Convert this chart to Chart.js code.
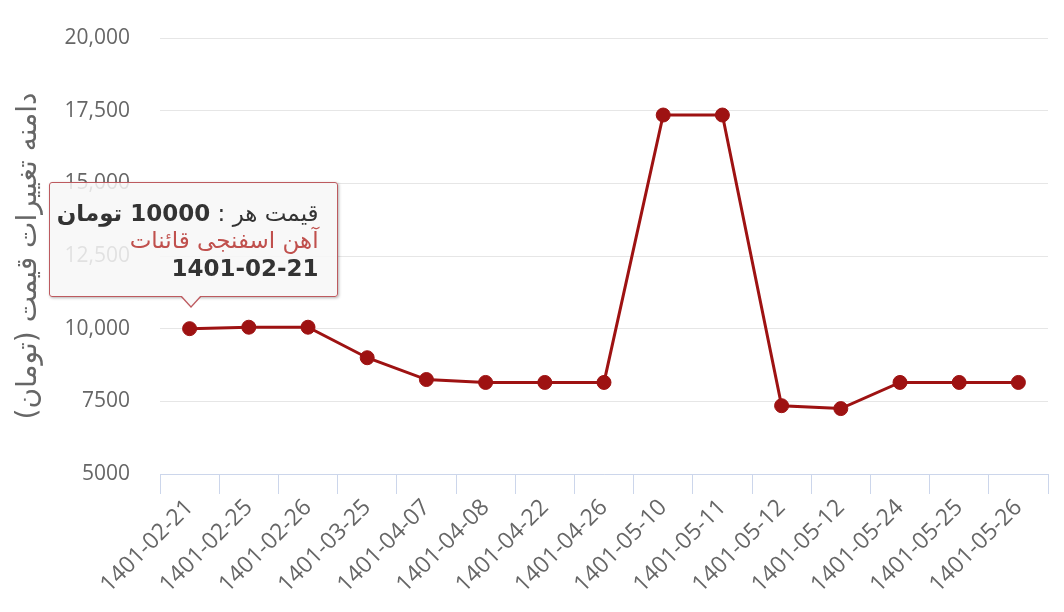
<!DOCTYPE html>
<html lang="fa">
<head>
<meta charset="utf-8">
<title>Price chart</title>
<script src="https://cdn.jsdelivr.net/npm/chart.js@4.4.0/dist/chart.umd.min.js"></script>
<style>
  html, body { margin: 0; padding: 0; background: #fff; }
  #wrap { position: relative; width: 1064px; height: 612px; }
  #tip {
    position: absolute;
    display: none;
    box-sizing: border-box;
    width: 289px;
    padding: 17px 18px 14px 8px;
    background: rgba(247, 247, 247, 0.85);
    border: 1px solid #bd5a5f;
    border-radius: 3px;
    box-shadow: 1px 1px 3px rgba(0, 0, 0, 0.3);
    direction: rtl;
    text-align: right;
    white-space: nowrap;
    font-family: 'DejaVu Sans', sans-serif;
    font-size: 23px;
    line-height: 27.5px;
    color: #333;
    pointer-events: none;
  }
  #tip::before, #tip::after {
    content: '';
    position: absolute;
    left: 130px;
    border-style: solid;
    border-color: transparent;
  }
  #tip::before { bottom: -12px; border-width: 12px 11px 0 11px; border-top-color: #bd5a5f; }
  #tip::after { bottom: -10px; left: 131px; border-width: 11px 10px 0 10px; border-top-color: #f8f8f8; }
  #tip .name { color: #c0504d; }
  #tip b { font-weight: bold; }
</style>
</head>
<body>
<div id="wrap">
  <canvas id="priceChart"></canvas>
  <div id="tip"></div>
</div>
<script>
// داده‌ها
const dates = [
  '1401-02-21', '1401-02-25', '1401-02-26', '1401-03-25', '1401-04-07',
  '1401-04-08', '1401-04-22', '1401-04-26', '1401-05-10', '1401-05-11',
  '1401-05-12', '1401-05-12', '1401-05-24', '1401-05-25', '1401-05-26'
];
const prices = [10000, 10050, 10050, 9000, 8250, 8150, 8150, 8150, 17350, 17350, 7350, 7250, 8150, 8150, 8150];
const productName = 'آهن اسفنجی قائنات';
const unitName = 'تومان';
const yTitle = 'دامنه تغییرات قیمت (تومان)\u200F';
const yMin = 5000;
const yMax = 20000;
const yStep = 2500;
const activeIndex = 0;

const lineColor = '#9e1212';
const labelFont = { family: 'Open Sans', size: 21 };

// تولتیپ HTML (مثل هایچارت)
function externalTip(context) {
    const { tooltip } = context;
    const el = document.getElementById('tip');
    if (!tooltip.dataPoints || !tooltip.dataPoints.length) {
        el.style.display = 'none';
        return;
    }
    const dp = tooltip.dataPoints[0];
    el.innerHTML =
        '<div>قیمت هر : <b>' + dp.raw + ' ' + unitName + '</b></div>' +
        '<div class="name">' + productName + '</div>' +
        '<div><b>' + dp.label + '</b></div>';
    el.style.display = 'block';
    el.style.left = (tooltip.caretX - 141) + 'px';
    el.style.top = (tooltip.caretY - el.offsetHeight - 31) + 'px';
}

const ctx = document.getElementById('priceChart').getContext('2d');
const chart = new Chart(ctx, {
    type: 'line',
    data: {
        labels: dates,
        datasets: [{
            data: prices,
            borderColor: lineColor,
            backgroundColor: lineColor,
            borderWidth: 3,
            pointRadius: 7,
            pointBorderWidth: 1,
            pointBorderColor: lineColor,
            tension: 0
        }]
    },
    options: {
        responsive: true,
        maintainAspectRatio: false,
        animation: false,
        events: [],
        layout: { padding: { top: 38, right: 16, left: 0, bottom: 0 } },
        plugins: {
            legend: { display: false },
            tooltip: { enabled: false, external: externalTip }
        },
        scales: {
            x: {
                offset: true,
                grid: { offset: true, drawOnChartArea: false, tickLength: 20, color: '#ccd6eb' },
                border: { color: '#ccd6eb' },
                ticks: {
                    autoSkip: false,
                    minRotation: 45,
                    maxRotation: 45,
                    padding: 0,
                    color: '#666',
                    font: { family: 'Open Sans', size: 23 }
                },
                afterFit: s => { s.height = 138; }
            },
            y: {
                min: yMin,
                max: yMax,
                border: { display: false },
                grid: { color: '#e6e6e6', drawTicks: false },
                ticks: {
                    stepSize: yStep,
                    padding: 30,
                    color: '#666',
                    font: labelFont,
                    // هایچارت برای اعداد چهاررقمی جداکننده نمی‌گذارد
                    callback: v => v >= 10000 ? v.toLocaleString('en-US') : String(v)
                },
                title: {
                    display: true,
                    text: yTitle,
                    color: '#666',
                    font: { family: 'DejaVu Sans', size: 28 },
                    padding: { top: 12, bottom: 0 }
                },
                afterFit: s => {
                    s.width = 160;
                    s.paddingTop = 0;
                    s.paddingBottom = 0;
                }
            }
        }
    }
});

chart.tooltip.setActiveElements([{ datasetIndex: 0, index: activeIndex }], { x: 0, y: 0 });
chart.update();
</script>
</body>
</html>
